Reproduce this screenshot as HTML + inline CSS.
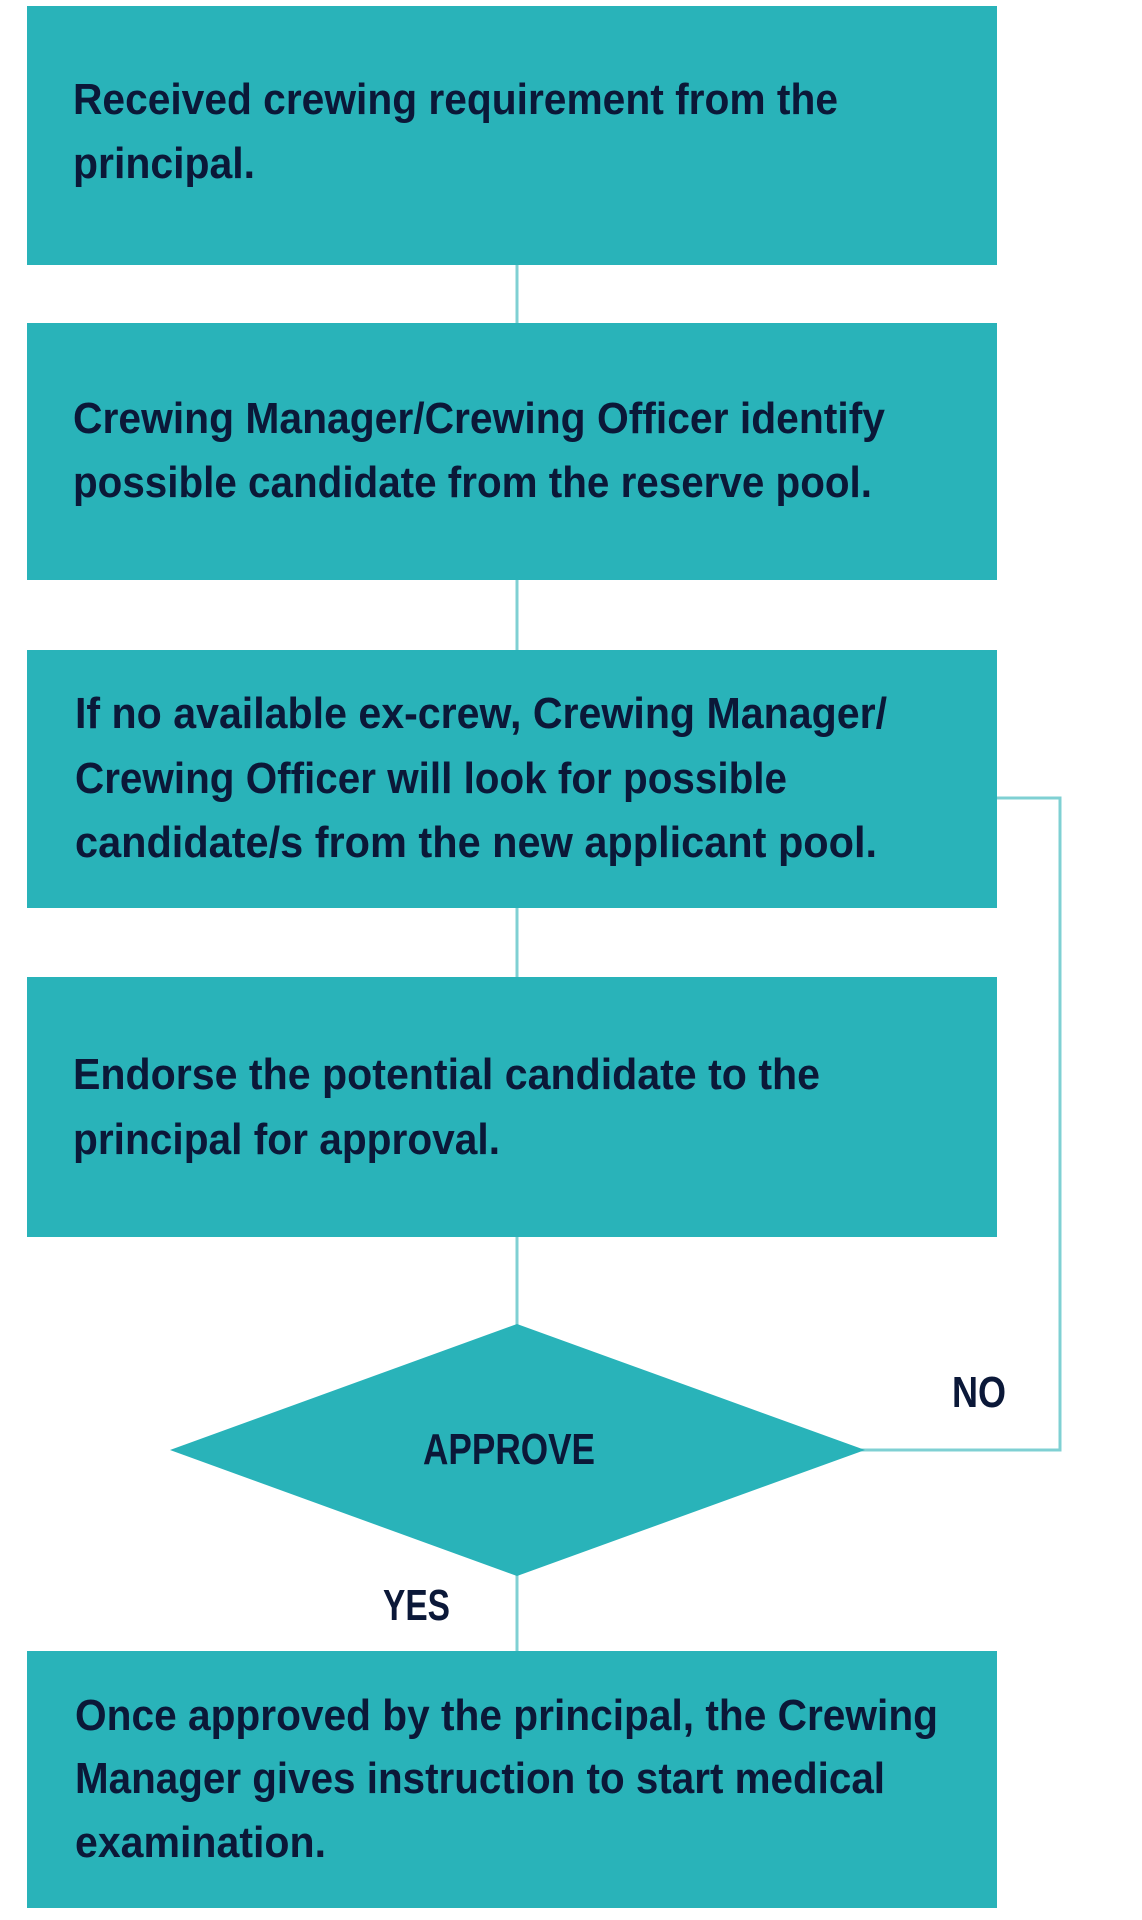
<!DOCTYPE html>
<html><head><meta charset="utf-8"><style>
html,body{margin:0;padding:0;background:#fff;}
svg{display:block;}
text{font-family:"Liberation Sans",sans-serif;font-weight:bold;fill:#0b1838;font-size:44px;}
</style></head><body>
<svg width="1142" height="1920" viewBox="0 0 1142 1920" xmlns="http://www.w3.org/2000/svg">
<g stroke="#7fd0d3" stroke-width="3" fill="none">
<line x1="517" y1="265" x2="517" y2="323"/>
<line x1="517" y1="580" x2="517" y2="650"/>
<line x1="517" y1="908" x2="517" y2="977"/>
<line x1="517" y1="1237" x2="517" y2="1330"/>
<line x1="517" y1="1570" x2="517" y2="1651"/>
<polyline points="997,798 1060,798 1060,1450 860,1450"/>
</g>
<g fill="#29b3b9">
<rect x="27" y="6" width="970" height="259"/>
<rect x="27" y="323" width="970" height="257"/>
<rect x="27" y="650" width="970" height="258"/>
<rect x="27" y="977" width="970" height="260"/>
<rect x="27" y="1651" width="970" height="257"/>
<polygon points="517,1324 865,1450 517,1576 170,1450"/>
</g>
<text x="73" y="114" textLength="765" lengthAdjust="spacingAndGlyphs">Received crewing requirement from the</text>
<text x="73" y="178" textLength="182" lengthAdjust="spacingAndGlyphs">principal.</text>
<text x="73" y="433" textLength="812" lengthAdjust="spacingAndGlyphs">Crewing Manager/Crewing Officer identify</text>
<text x="73" y="497" textLength="799" lengthAdjust="spacingAndGlyphs">possible candidate from the reserve pool.</text>
<text x="75" y="728" textLength="812" lengthAdjust="spacingAndGlyphs">If no available ex-crew, Crewing Manager/</text>
<text x="75" y="793" textLength="712" lengthAdjust="spacingAndGlyphs">Crewing Officer will look for possible</text>
<text x="75" y="857" textLength="802" lengthAdjust="spacingAndGlyphs">candidate/s from the new applicant pool.</text>
<text x="73" y="1089" textLength="747" lengthAdjust="spacingAndGlyphs">Endorse the potential candidate to the</text>
<text x="73" y="1154" textLength="427" lengthAdjust="spacingAndGlyphs">principal for approval.</text>
<text x="423" y="1464" textLength="172" lengthAdjust="spacingAndGlyphs">APPROVE</text>
<text x="952" y="1407" textLength="54" lengthAdjust="spacingAndGlyphs">NO</text>
<text x="383" y="1620" textLength="67" lengthAdjust="spacingAndGlyphs">YES</text>
<text x="75" y="1730" textLength="863" lengthAdjust="spacingAndGlyphs">Once approved by the principal, the Crewing</text>
<text x="75" y="1793" textLength="810" lengthAdjust="spacingAndGlyphs">Manager gives instruction to start medical</text>
<text x="75" y="1857" textLength="251" lengthAdjust="spacingAndGlyphs">examination.</text>
</svg>
</body></html>
